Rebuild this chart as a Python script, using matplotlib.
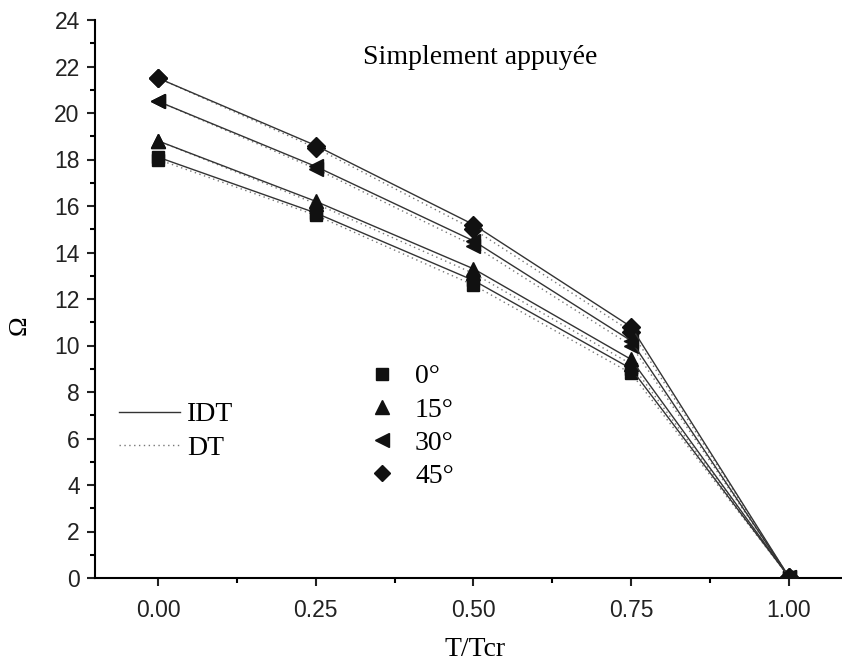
import matplotlib
matplotlib.use('Agg')
import matplotlib.pyplot as plt
from matplotlib.lines import Line2D
from matplotlib.ticker import MultipleLocator

# donnees
ratio = [0.0, 0.25, 0.50, 0.75, 1.0]
angles = ['0°', '15°', '30°', '45°']
markers = ['s', '^', '<', 'D']
msizes = [9, 10.5, 10.5, 9]

idt = [
    [18.1, 15.7, 12.8, 9.0, 0.05],
    [18.8, 16.2, 13.3, 9.4, 0.05],
    [20.5, 17.7, 14.5, 10.2, 0.05],
    [21.5, 18.6, 15.2, 10.8, 0.05],
]
dt = [
    [18.0, 15.6, 12.6, 8.8, 0.05],
    [18.8, 16.1, 13.1, 9.2, 0.05],
    [20.5, 17.6, 14.3, 10.0, 0.05],
    [21.5, 18.5, 15.0, 10.6, 0.05],
]

serif = ['Liberation Serif', 'DejaVu Serif']
sans = ['Liberation Sans', 'DejaVu Sans']
plt.rcParams['font.family'] = sans

fig = plt.figure(figsize=(8.42, 6.66), dpi=100, facecolor='white')
ax = fig.add_axes([95/842, 88/666, 757/842, 558/666])

for k in range(len(angles)):
    ax.plot(ratio, idt[k], color='#333333', lw=1.0, ls='-',
            marker=markers[k], ms=msizes[k], mfc='#111111', mec='#111111', zorder=3)
    ax.plot(ratio, dt[k], color='#777777', lw=1.0, ls=(0, (1, 2.5)),
            marker=markers[k], ms=msizes[k], mfc='#111111', mec='#111111', zorder=2)

ax.set_xlim(-0.1, 1.1)
ax.set_ylim(0, 24)
ax.xaxis.set_major_locator(MultipleLocator(0.25))
ax.xaxis.set_minor_locator(MultipleLocator(0.125))
ax.yaxis.set_major_locator(MultipleLocator(2))
ax.yaxis.set_minor_locator(MultipleLocator(1))
ax.set_xticks(ratio)
ax.set_xticklabels(['0.00', '0.25', '0.50', '0.75', '1.00'])

for s in ['top', 'right']:
    ax.spines[s].set_visible(False)
for s in ['left', 'bottom']:
    ax.spines[s].set_linewidth(1.5)
ax.tick_params(which='major', direction='out', length=6, width=1.5, labelsize=16.5, colors='#222222')
ax.tick_params(which='minor', direction='out', length=3.5, width=1.5)
ax.tick_params(axis='x', pad=9)
ax.tick_params(axis='y', pad=5)

fig.text(475/842, 1 - 650/666, 'T/Tcr', family=serif, fontsize=20, ha='center', va='center')
fig.text(20/842, 1 - 325/666, 'Ω', family=serif, fontsize=19, ha='center', va='center', rotation=90)
fig.text(480/842, 1 - 57/666, 'Simplement appuyée', family=serif, fontsize=20, ha='center', va='center')

# legende des angles
h1 = [Line2D([], [], ls='none', marker=markers[k], ms=msizes[k] - 0.5, color='#111111')
      for k in range(len(angles))]
leg1 = ax.legend(h1, angles, loc='upper left', bbox_to_anchor=(340/842, 1 - 339/666),
                 bbox_transform=fig.transFigure, frameon=False, handlelength=1.2,
                 handletextpad=0.6, labelspacing=0.28, prop={'family': serif, 'size': 20})
ax.add_artist(leg1)

# legende des theories
h2 = [Line2D([], [], color='#333333', lw=1.0, ls='-'),
      Line2D([], [], color='#777777', lw=1.0, ls=(0, (1, 2.5)))]
ax.legend(h2, ['IDT', 'DT'], loc='upper left', bbox_to_anchor=(94/842, 1 - 377/666),
          bbox_transform=fig.transFigure, frameon=False, handlelength=2.2,
          handletextpad=0.25, labelspacing=0.3, prop={'family': serif, 'size': 20})

fig.savefig('out.png', dpi=100)
